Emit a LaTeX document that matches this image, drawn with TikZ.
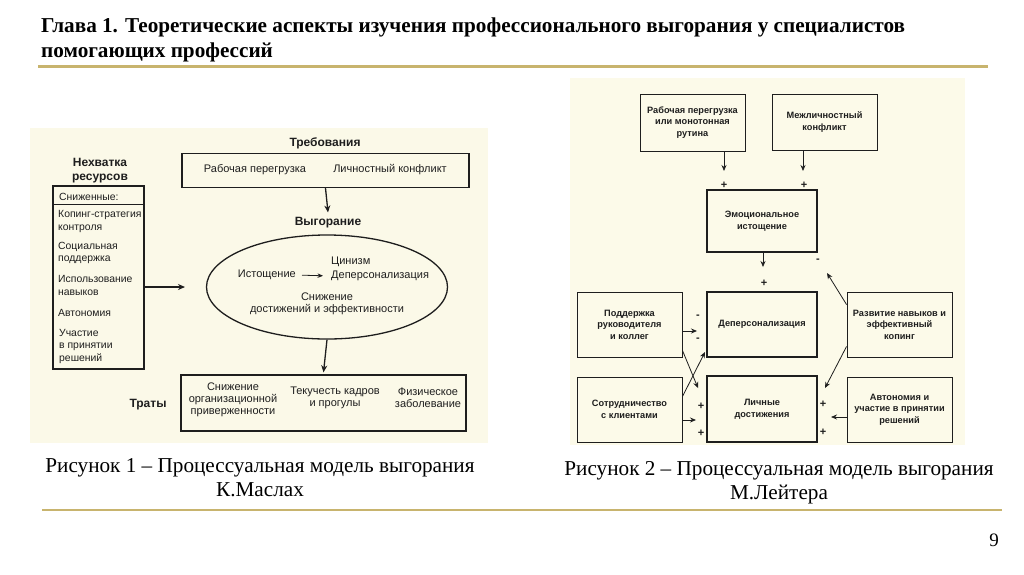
\documentclass[tikz,border=0pt]{standalone}
\usepackage{fontspec}
\setmainfont{Liberation Serif}
\newfontfamily\figsans{Liberation Sans}
\usetikzlibrary{arrows.meta,shapes.geometric}
\definecolor{gold}{RGB}{200,180,110}
\definecolor{creamA}{RGB}{251,249,232}
\definecolor{creamB}{RGB}{252,250,233}
\definecolor{ink}{RGB}{30,30,30}
\begin{document}
\begin{tikzpicture}[x=1pt,y=-1pt,
  lt/.style={font=\figsans\fontsize{11}{12}\selectfont, inner sep=0pt, align=center, text=ink},
  ll/.style={font=\figsans\fontsize{10.4}{12.5}\selectfont, inner sep=0pt, align=left, anchor=west, text=ink},
  lb/.style={font=\figsans\bfseries\fontsize{12}{14.5}\selectfont, inner sep=0pt, align=center, text=ink},
  lbox/.style={draw=ink, line width=1.3pt, inner sep=0pt},
  larr/.style={draw=ink, line width=1.3pt, -{Stealth[length=7pt,width=6pt]}},
  tarr/.style={draw=ink, line width=0.8pt, -{Stealth[length=5.5pt,width=4.5pt]}},
  rbox/.style={draw=ink, line width=0.9pt, minimum width=105pt, minimum height=65pt, inner sep=0pt,
    font=\figsans\bfseries\fontsize{9.2}{11.5}\selectfont, align=center, text=ink},
  rthick/.style={rbox, line width=1.8pt, minimum width=110pt},
  rarr/.style={draw=ink, line width=0.8pt, -{Stealth[length=6pt,width=5pt]}},
  sign/.style={font=\figsans\bfseries\fontsize{11}{11}\selectfont, inner sep=0pt, text=ink},
  ttl/.style={font=\bfseries\fontsize{21.2}{25}\selectfont, inner sep=0pt, align=left},
  captxt/.style={font=\fontsize{21.2}{24}\selectfont, inner sep=0pt, align=center},
]
\useasboundingbox (0,0) rectangle (1024,574);
\fill[white] (0,0) rectangle (1024,574);

% title
\node[ttl, anchor=north west] (title) at (41,18) {Глава 1. Теоретические аспекты изучения профессионального выгорания у специалистов\\помогающих профессий};
\draw[gold, line width=3pt] (38,66) -- (988,66);

% ---------- left figure ----------
\fill[creamA] (30,128) rectangle (488,443);
\node[lb] (treb) at (325,143) {Требования};
\node[lbox, minimum width=287pt, minimum height=34pt] (req) at (325.5,170.5) {};
\node[lt] (over) at (255,170) {Рабочая перегрузка};
\node[lt] (konf) at (390,170) {Личностный конфликт};
\node[lb] (vyg) at (328,223) {Выгорание};
\node[draw=ink, line width=1.3pt, ellipse, minimum width=241pt, minimum height=104pt, inner sep=0pt] (burn) at (327,287) {};
\node[lt, anchor=east] (ist) at (296,275) {Истощение};
\node[lt, anchor=west] (cyn) at (331,262) {Цинизм};
\node[lt, anchor=west] (dep) at (331,276) {Деперсонализация};
\node[lt] (sniz) at (327,303.5) {Снижение\\достижений и эффективности};
\draw[tarr, shorten <=6pt, shorten >=8pt] (ist.east) -- (dep.west);

\node[lb] (nehv) at (100,170.5) {Нехватка\\ресурсов};
\node[lbox, minimum width=91pt, minimum height=183pt] (res) at (98.5,277.5) {};
\draw[ink, line width=1.3pt] ([yshift=-19pt]res.north west) -- ([yshift=-19pt]res.north east);
\node[ll] (r0) at (59,197) {Сниженные:};
\node[ll] (r1) at (58,221.5) {Копинг-стратегия\\контроля};
\node[ll] (r2) at (58,253) {Социальная\\поддержка};
\node[ll] (r3) at (58,285.5) {Использование\\навыков};
\node[ll] (r4) at (58,313) {Автономия};
\node[ll] (r5) at (59,346) {Участие\\в принятии\\решений};

\node[lbox, minimum width=285pt, minimum height=56pt] (cost) at (323.5,403) {};
\node[lb] (traty) at (148,405) {Траты};
\node[lt] (c1) at (233,400) {Снижение\\организационной\\приверженности};
\node[lt] (c2) at (335,398) {Текучесть кадров\\и прогулы};
\node[lt] (c3) at (428,398) {Физическое\\заболевание};

\coordinate (resend) at (185,287);
\draw[larr] (req.south) -- ([yshift=5pt]vyg.north);
\draw[larr] (burn.south) -- ([yshift=2pt]cost.north);
\draw[larr] (res.east |- resend) -- (resend);

% ---------- right figure ----------
\fill[creamB] (570,78) rectangle (965,445);
\node[rbox, minimum height=57pt] (A) at (692.5,122.5) {Рабочая перегрузка\\или монотонная\\рутина};
\node[rbox, minimum height=56pt] (B) at (824.5,122) {Межличностный\\конфликт};
\node[rthick, minimum height=62pt] (C) at (762,221) {Эмоциональное\\истощение};
\node[rthick] (P) at (762,324.5) {Деперсонализация};
\node[rthick, minimum height=66pt] (G) at (762,409) {Личные\\достижения};
\node[rbox] (D) at (629.5,324.5) {Поддержка\\руководителя\\и коллег};
\node[rbox] (F) at (629.5,409.5) {Сотрудничество\\с клиентами};
\node[rbox] (E) at (899.5,324.5) {Развитие навыков и\\эффективный\\копинг};
\node[rbox] (H) at (899.5,409.5) {Автономия и\\участие в принятии\\решений};

\coordinate (a1) at (724,171);
\coordinate (b1) at (803,171);
\coordinate (c1e) at (763,267);
\coordinate (e1) at (827,273);
\coordinate (d1) at (697,331);
\coordinate (d2) at (698,388);
\coordinate (f1) at (705,352);
\coordinate (f2) at (696,420);
\coordinate (e2) at (825,388);
\coordinate (h1) at (831,417);

\draw[rarr] (A.south -| a1) -- (a1);
\draw[rarr] (B.south -| b1) -- (b1);
\draw[rarr] (C.south -| c1e) -- (c1e);
\draw[rarr] ([yshift=-13pt]E.north west) -- (e1);
\draw[rarr] (D.east |- d1) -- (d1);
\draw[rarr] ([yshift=7pt]D.south east) -- (d2);
\draw[rarr] ([yshift=-20pt]F.north east) -- (f1);
\draw[rarr] (F.east |- f2) -- (f2);
\draw[rarr] ([yshift=11pt]E.south west) -- (e2);
\draw[rarr] (H.west |- h1) -- (h1);

\node[sign] (s1) at (724,185) {+};
\node[sign] (s2) at (804,185) {+};
\node[sign] (s3) at (764,283) {+};
\node[sign] (s4) at (818,261) {-};
\node[sign] (s5) at (698,317) {-};
\node[sign] (s6) at (698,340) {-};
\node[sign] (s7) at (701,406) {+};
\node[sign] (s8) at (701,433) {+};
\node[sign] (s9) at (823,404) {+};
\node[sign] (s10) at (823,432) {+};

% captions
\node[captxt] (cap1) at (260,477.5) {Рисунок 1 – Процессуальная модель выгорания\\К.Маслах};
\node[captxt] (cap2) at (779,482.5) {Рисунок 2 – Процессуальная модель выгорания\\М.Лейтера};
\draw[gold, line width=2pt] (42,510) -- (1002,510);
\node[font=\fontsize{19}{19}\selectfont, inner sep=0pt] (pnum) at (994,540) {9};
\end{tikzpicture}
\end{document}
